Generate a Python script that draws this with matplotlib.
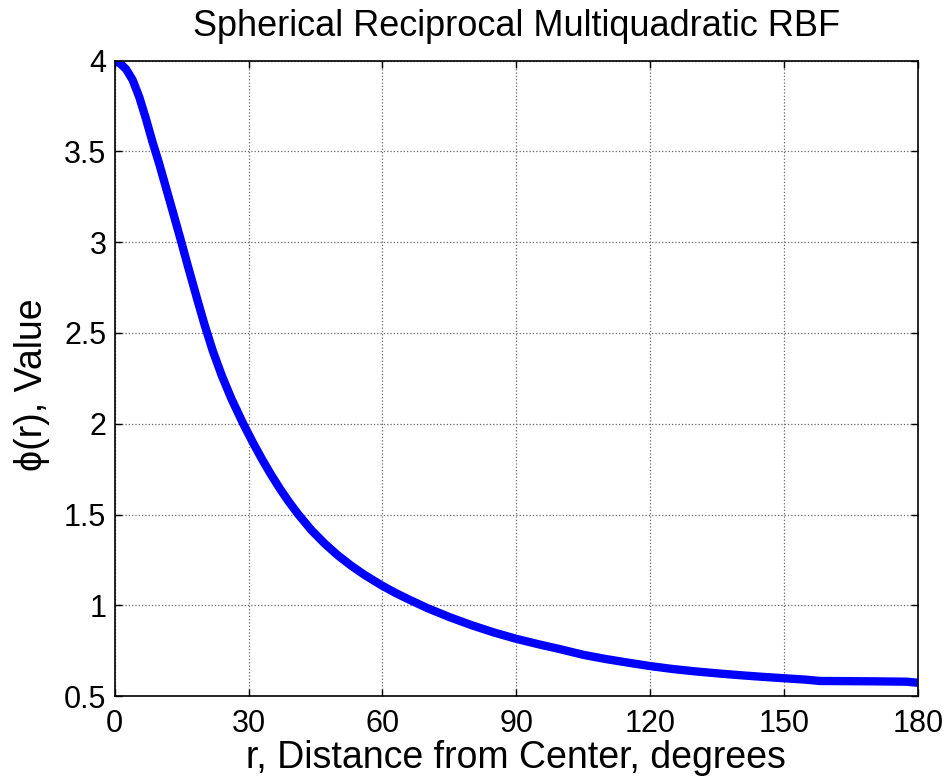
import matplotlib
matplotlib.use('Agg')
import matplotlib.pyplot as plt

# r in degrees, phi(r)
r_deg = [0, 1.2, 2.5, 4.0, 5.5, 7.0, 8.5, 10.0, 11.5, 13.0, 14.6, 16.5, 18.5,
         20.2, 22.0, 24.0, 26.2, 28.8, 31.0, 33.0, 35.0, 37.0, 39.0, 41.1,
         44.0, 47.0, 50.0, 53.0, 56.0, 60.0, 63.0, 66.0, 70.0, 75.0, 80.0,
         85.0, 90.0, 95.0, 100.0, 105.0, 110.0, 115.0, 120.0, 125.0, 130.0,
         135.0, 140.0, 145.0, 150.0, 155.0, 158.0, 170.0, 177.5, 180.0]
phi = [4.00, 3.985, 3.955, 3.895, 3.80, 3.68, 3.55, 3.43, 3.30, 3.17, 3.03,
       2.86, 2.685, 2.54, 2.40, 2.265, 2.135, 2.00, 1.895, 1.805, 1.721,
       1.643, 1.571, 1.502, 1.416, 1.341, 1.275, 1.218, 1.167, 1.107, 1.067,
       1.031, 0.985, 0.935, 0.89, 0.85, 0.815, 0.785, 0.757, 0.727, 0.704,
       0.684, 0.665, 0.649, 0.636, 0.625, 0.615, 0.606, 0.598, 0.59, 0.583,
       0.581, 0.579, 0.573]

xticks = [0, 30, 60, 90, 120, 150, 180]
yticks = [0.5, 1, 1.5, 2, 2.5, 3, 3.5, 4]
ytick_labels = ['0.5', '1', '1.5', '2', '2.5', '3', '3.5', '4']

plt.rcParams['font.family'] = ['Liberation Sans', 'DejaVu Sans']

fig = plt.figure(figsize=(9.51, 7.84), dpi=100)
ax = fig.add_axes([0.1206, 0.1122, 0.8447, 0.8104])

ax.plot(r_deg, phi, color='#0000ff', linewidth=6, solid_capstyle='butt',
        solid_joinstyle='round')

ax.set_xlim(0, 180)
ax.set_ylim(0.5, 4)
ax.set_xticks(xticks)
ax.set_yticks(yticks)
ax.set_yticklabels(ytick_labels)
ax.tick_params(direction='in', length=5, width=1, top=True, right=True,
               labelsize=22)
ax.tick_params(axis='x', pad=9)
ax.tick_params(axis='y', pad=6)
ax.grid(True, color='0.4', linestyle=':', linewidth=0.9)
for s in ax.spines.values():
    s.set_linewidth(1.2)

ax.set_title('Spherical Reciprocal Multiquadratic RBF', fontsize=26, pad=18)

ax.set_xlabel('r, Distance from Center, degrees', fontsize=27)
ax.xaxis.set_label_coords(0.5, -0.1135)
ax.xaxis.label.set_verticalalignment('baseline')

ax.set_ylabel('\u03d5(r), Value', fontsize=27)
ax.yaxis.set_label_coords(-0.0905, 0.49)
ax.yaxis.label.set_verticalalignment('baseline')

fig.savefig('out.png', dpi=100)
